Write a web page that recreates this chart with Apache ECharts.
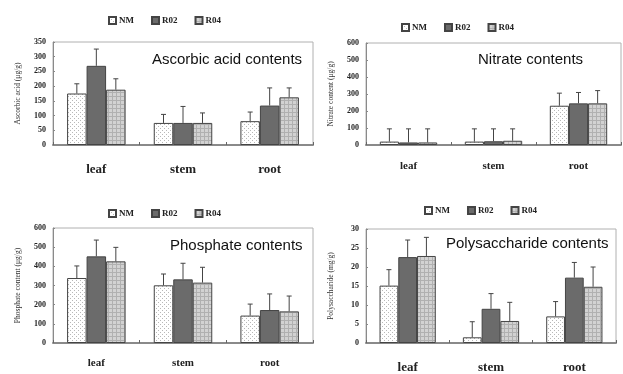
<!DOCTYPE html>
<html><head><meta charset="utf-8">
<script src="https://cdn.jsdelivr.net/npm/echarts@6/dist/echarts.min.js"></script>
<style>html,body{margin:0;padding:0;background:#fff}#c{width:623px;height:374px}</style>
</head><body><div id="c"></div>
<script>
const categories = ['leaf','stem','root'];
const seriesNames = ['NM','R02','R04'];

const ascorbicMean = { NM:[175,75,81], R02:[269,75,134], R04:[188,75,162] };
const ascorbicSD   = { NM:[33,29,31],  R02:[57,56,60],  R04:[37,34,32] };
const nitrateMean  = { NM:[20,20,231], R02:[15,22,245], R04:[15,25,245] };
const nitrateSD    = { NM:[75,75,74],  R02:[80,73,64],  R04:[80,70,75] };
const phosphateMean= { NM:[339,301,143], R02:[452,332,172], R04:[426,315,165] };
const phosphateSD  = { NM:[63,59,60],  R02:[85,84,84],  R04:[73,80,80] };
const polyMean     = { NM:[15.1,1.5,7.0], R02:[22.6,9.0,17.2], R04:[22.9,5.8,14.8] };
const polySD       = { NM:[4.2,4.1,3.9], R02:[4.5,4.0,4.0], R04:[4.9,4.9,5.2] };

const yTicks = [
  {max:350, interval:50},
  {max:600, interval:100},
  {max:600, interval:100},
  {max:30, interval:5}
];
const panelTitles = ['Ascorbic acid contents','Nitrate contents','Phosphate contents','Polysaccharide contents'];
const yNames = ['Ascorbic acid (μg/g)','Nitrate content (μg/g)','Phosphate content (μg/g)','Polysaccharide (mg/g)'];

function makePattern(kind){
  const c = document.createElement('canvas');
  c.width = 4; c.height = 4;
  const g = c.getContext('2d');
  if(kind==='dots'){
    g.fillStyle='#ffffff'; g.fillRect(0,0,4,4);
    g.fillStyle='#b8b8b8'; g.fillRect(0,0,1,1); g.fillRect(2,2,1,1);
  } else {
    g.fillStyle='#d2d2d2'; g.fillRect(0,0,4,4);
    g.fillStyle='#b0b0b0'; g.fillRect(0,0,4,1); g.fillRect(0,0,1,4);
  }
  return c;
}
const fills = {
  NM: {image: makePattern('dots'), repeat:'repeat'},
  R02: '#6b6b6b',
  R04: {image: makePattern('grid'), repeat:'repeat'}
};

const grids = [
  {left:53, top:42, width:260, height:103},
  {left:366, top:43, width:255, height:102},
  {left:53, top:228, width:260, height:115},
  {left:366, top:229, width:250, height:115}
];
const legendPos = [
  {left:103, top:11},
  {left:396, top:18},
  {left:103, top:204},
  {left:419, top:201}
];
const titlePos = [
  {left:152, top:52},
  {left:478, top:52},
  {left:170, top:238},
  {left:446, top:236}
];
const catFont = [13, 11, 11, 13];
const catMargin = [18, 16, 15, 18];
const means = [ascorbicMean, nitrateMean, phosphateMean, polyMean];
const sds = [ascorbicSD, nitrateSD, phosphateSD, polySD];

const BAR_FRAC = 0.225;
const series = [];
means.forEach((m, p) => {
  seriesNames.forEach((name, si) => {
    series.push({
      type:'bar', name, xAxisIndex:p, yAxisIndex:p,
      data: m[name], barWidth: (BAR_FRAC*100)+'%', barGap:'0%',
      itemStyle:{color: fills[name], borderColor:'#444', borderWidth:1},
      emphasis:{disabled:true}, z:2
    });
  });
  seriesNames.forEach((name, si) => {
    const data = m[name].map((v,i)=>[i, v, v + sds[p][name][i]]);
    series.push({
      type:'custom', name, xAxisIndex:p, yAxisIndex:p, data, z:3,
      renderItem:(params, api)=>{
        const band = api.size([1,0])[0];
        const bw = band*BAR_FRAC;
        const off = (si-1)*bw;
        const base = api.coord([api.value(0), api.value(1)]);
        const top = api.coord([api.value(0), api.value(2)]);
        const x = base[0] + off;
        const capHalf = 2.5;
        return {type:'group', children:[
          {type:'line', shape:{x1:x, y1:base[1], x2:x, y2:top[1]}, style:{stroke:'#444', lineWidth:1}},
          {type:'line', shape:{x1:x-capHalf, y1:top[1], x2:x+capHalf, y2:top[1]}, style:{stroke:'#444', lineWidth:1}}
        ]};
      }
    });
  });
});

const option = {
  animation:false,
  backgroundColor:'#fff',
  grid: grids.map(g=>Object.assign({show:true, borderColor:'#b0b0b0', borderWidth:1, backgroundColor:'transparent'}, g)),
  title: panelTitles.map((t,i)=>Object.assign({text:t, textStyle:{fontFamily:'Liberation Sans, Arial', fontSize:15, fontWeight:'normal', color:'#111'}, padding:0}, titlePos[i])),
  legend: legendPos.map((lp)=>Object.assign({
    data: seriesNames, orient:'horizontal', itemWidth:7, itemHeight:7, itemGap:17,
    icon:'rect', selectedMode:false,
    textStyle:{fontFamily:'Liberation Serif, Times New Roman', fontSize:9, fontWeight:'bold', color:'#222', padding:[0,0,0,-2]}
  }, lp)),
  xAxis: grids.map((g,i)=>({
    type:'category', gridIndex:i, data:categories,
    axisLine:{lineStyle:{color:'#8a8a8a', width:2}},
    axisTick:{show:true, inside:true, length:3, lineStyle:{color:'#666'}},
    axisLabel:{fontFamily:'Liberation Serif, Times New Roman', fontSize:catFont[i], fontWeight:'bold', color:'#222', margin:catMargin[i]}
  })),
  yAxis: yTicks.map((t,i)=>({
    type:'value', gridIndex:i, min:0, max:t.max, interval:t.interval,
    name: yNames[i], nameLocation:'middle', nameRotate:90, nameGap:31,
    nameTextStyle:{fontFamily:'Liberation Serif, Times New Roman', fontSize:7.5, color:'#333'},
    axisLine:{show:true, lineStyle:{color:'#8a8a8a', width:1}},
    axisTick:{show:true, inside:true, length:2, lineStyle:{color:'#888'}},
    splitLine:{show:false},
    axisLabel:{fontFamily:'Liberation Serif, Times New Roman', fontSize:8, fontWeight:'bold', color:'#222', margin:7}
  })),
  series
};
const chart = echarts.init(document.getElementById('c'), null, {renderer:'canvas'});
chart.setOption(option);
</script></body></html>
